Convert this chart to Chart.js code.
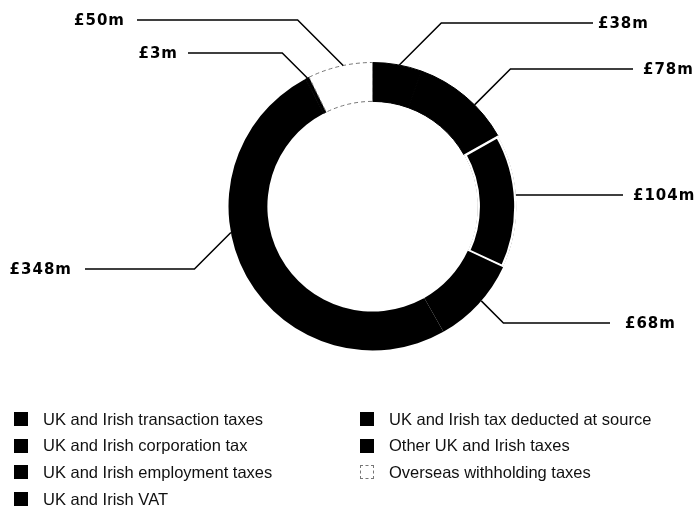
<!DOCTYPE html>
<html>
<head>
<meta charset="utf-8">
<script src="https://cdn.jsdelivr.net/npm/chart.js@4.4.0/dist/chart.umd.min.js"></script>
<style>
  html, body { margin: 0; padding: 0; background: #fff; }
  #wrap { position: relative; width: 694px; height: 506px; overflow: hidden; }
  #chartBox { position: absolute; left: 0; top: 0; width: 694px; height: 360px; }
  #legend { position: absolute; left: 0; top: 0; width: 694px; height: 506px;
    font-family: "Liberation Sans", Arial, sans-serif; font-size: 16.5px; color: #111; }
  .item { position: absolute; display: flex; align-items: center; height: 20px; white-space: nowrap; }
  .swatch { width: 14px; height: 14px; margin-right: 15px; box-sizing: border-box; }
</style>
</head>
<body>
<div id="wrap">
  <div id="chartBox"><canvas id="taxChart"></canvas></div>
  <div id="legend"></div>
</div>
<script>
const labels = [
  "UK and Irish transaction taxes",
  "UK and Irish corporation tax",
  "UK and Irish employment taxes",
  "UK and Irish VAT",
  "UK and Irish tax deducted at source",
  "Other UK and Irish taxes",
  "Overseas withholding taxes",
]
const values = [38, 78, 104, 68, 348, 3, 50]

const fillColors = ["#000", "#000", "#000", "#000", "#000", "#000", "#fff"]
const edgeColors = ["#000", "#000", "#fff", "#000", "#000", "#000", "#777"]
const edgeWidths = [1, 1, 2, 0, 0, 1, 1]

// where each leader line leaves the ring and where its label sits
const spots = [
  { at: 0.54, y: 23, lineTo: 593, textX: 598 },
  { at: 0.62, y: 69, lineTo: 633, textX: 643 },
  { at: 0.46, y: 195, lineTo: 623, textX: 633 },
  { at: 0.45, y: 323, lineTo: 610, textX: 625 },
  { at: 0.6, y: 269, lineTo: 85, textX: 72 },
  { at: 0.5, y: 53, lineTo: 188, textX: 178 },
  { at: 0.55, y: 20, lineTo: 137, textX: 125 },
]

const leaderLabels = {
  id: "leaderLabels",
  afterDatasetsDraw(chart, args, opts) {
    const ctx = chart.ctx
    const arcs = chart.getDatasetMeta(0).data
    ctx.save()
    ctx.strokeStyle = "#000"
    ctx.fillStyle = "#000"
    ctx.lineWidth = 1.5
    ctx.font = "bold 15px 'DejaVu Sans'"
    ctx.letterSpacing = "1px"
    ctx.textBaseline = "middle"
    arcs.forEach((arc, i) => {
      const p = opts.spots[i]
      const { x, y, startAngle, endAngle, outerRadius } =
        arc.getProps(["x", "y", "startAngle", "endAngle", "outerRadius"], true)
      const a = startAngle + (endAngle - startAngle) * p.at
      const ax = x + Math.cos(a) * outerRadius
      const ay = y + Math.sin(a) * outerRadius
      const dir = p.lineTo > ax ? 1 : -1
      const ex = ax + dir * Math.abs(p.y - ay)
      ctx.beginPath()
      ctx.moveTo(ax, ay)
      ctx.lineTo(ex, p.y)
      ctx.lineTo(p.lineTo, p.y)
      ctx.stroke()
      ctx.textAlign = dir > 0 ? "left" : "right"
      ctx.fillText("£" + values[i] + "m", p.textX, p.y + 1)
    })
    ctx.restore()
  },
}

new Chart(document.getElementById("taxChart"), {
  type: "doughnut",
  data: {
    labels: labels,
    datasets: [
      {
        data: values,
        backgroundColor: fillColors,
        borderColor: edgeColors,
        borderWidth: edgeWidths,
        borderAlign: (c) => (c.dataIndex === 2 ? "inner" : "center"),
        borderDash: (c) => (c.dataIndex === 6 ? [4, 3] : []),
      },
    ],
  },
  plugins: [leaderLabels],
  options: {
    responsive: true,
    maintainAspectRatio: false,
    animation: false,
    events: [],
    cutout: "73%",
    layout: { padding: { top: 62, bottom: 9, left: 51, right: 0 } },
    plugins: {
      legend: { display: false },
      tooltip: { enabled: false },
      leaderLabels: { spots: spots },
    },
  },
})

// two-column legend under the ring
const legend = document.getElementById("legend")
labels.forEach((name, i) => {
  const col = i < 4 ? 0 : 1
  const row = i < 4 ? i : i - 4
  const item = document.createElement("div")
  item.className = "item"
  item.style.left = (col === 0 ? 14 : 360) + "px"
  item.style.top = (409 + row * 26.7) + "px"
  const sw = document.createElement("span")
  sw.className = "swatch"
  sw.style.background = fillColors[i]
  if (fillColors[i] === "#fff") sw.style.border = "1px dashed " + edgeColors[i]
  item.appendChild(sw)
  item.appendChild(document.createTextNode(name))
  legend.appendChild(item)
})
</script>
</body>
</html>
